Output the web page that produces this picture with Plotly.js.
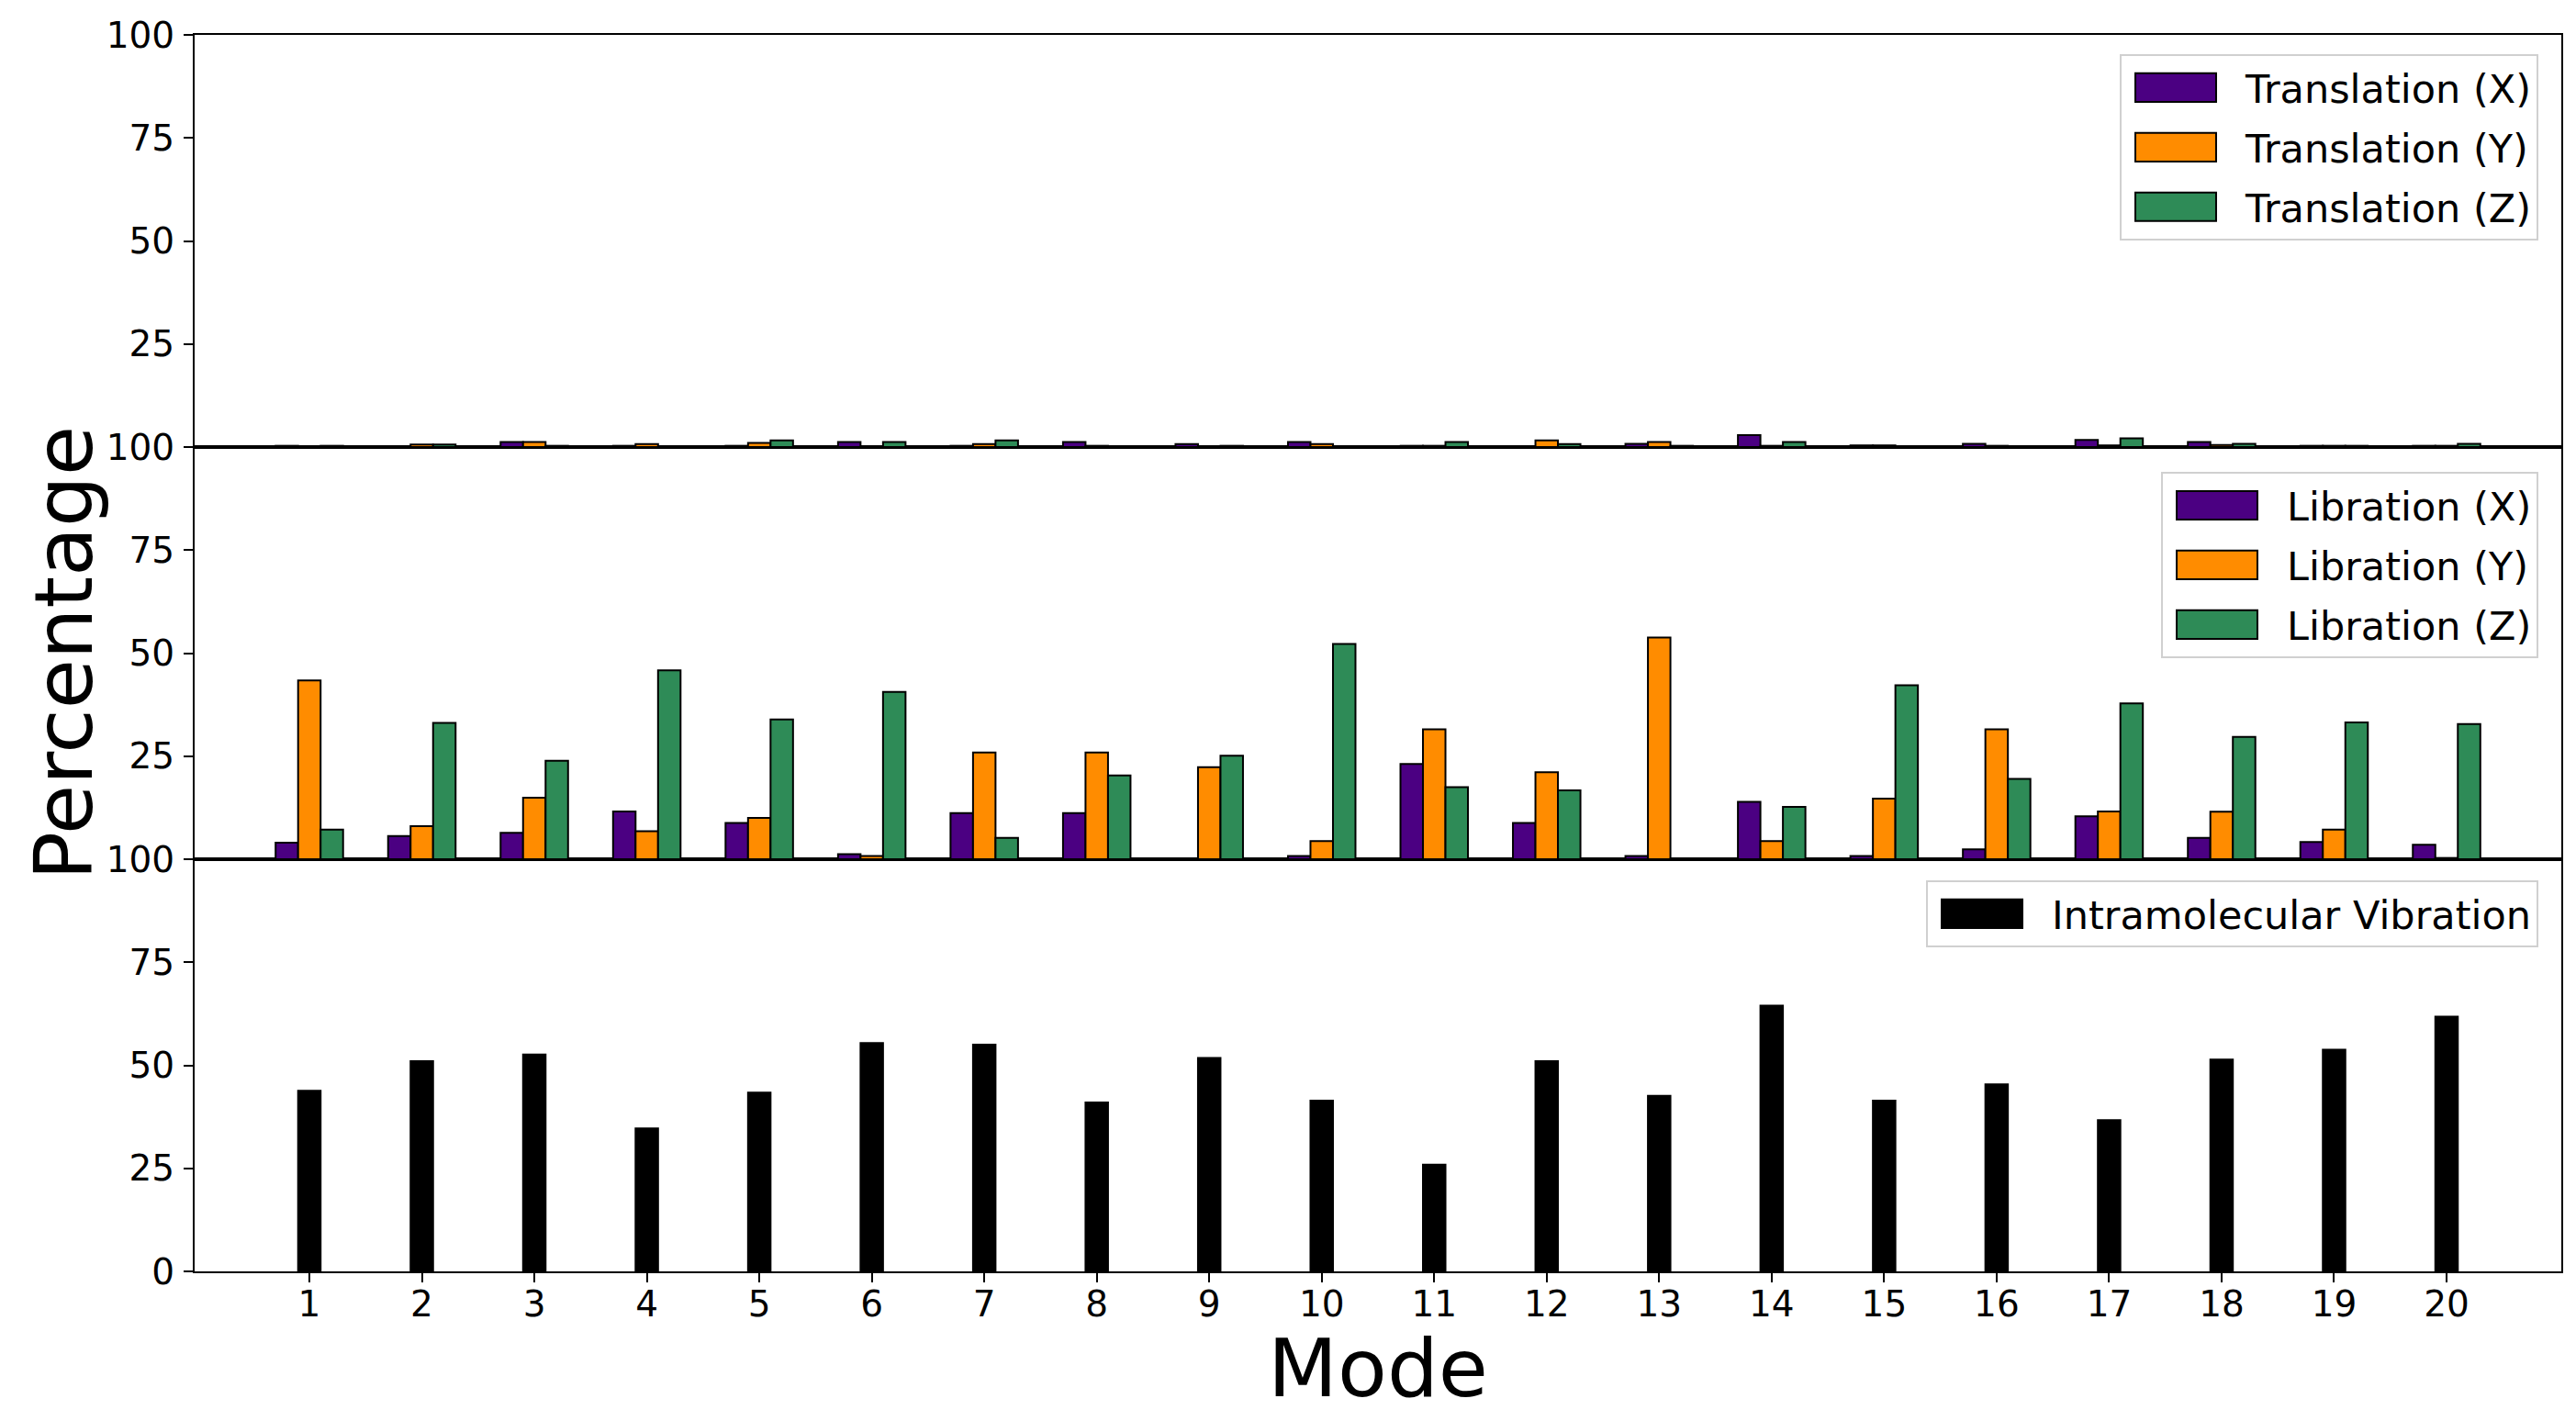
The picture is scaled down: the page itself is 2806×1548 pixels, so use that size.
<!DOCTYPE html>
<html>
<head>
<meta charset="utf-8">
<script src="https://cdn.plot.ly/plotly-3.0.1.min.js"></script>
<style>
  html, body { margin: 0; padding: 0; background: #ffffff; }
  #chart { width: 2806px; height: 1548px; }
</style>
</head>
<body>
<div id="chart"></div>
<script>
// ---------------- data ----------------
const modes = [1, 2, 3, 4, 5, 6, 7, 8, 9, 10, 11, 12, 13, 14, 15, 16, 17, 18, 19, 20];
const modeLabels = ["1","2","3","4","5","6","7","8","9","10","11","12","13","14","15","16","17","18","19","20"];

const translationX = [0.3, 0.05, 1.2, 0.3, 0.3, 1.2, 0.3, 1.2, 0.7, 1.2, 0.3, 0.05, 0.8, 2.9, 0.4, 0.8, 1.7, 1.2, 0.3, 0.3];
const translationY = [0.05, 0.6, 1.2, 0.7, 1.0, 0.05, 0.7, 0.3, 0.05, 0.7, 0.3, 1.6, 1.2, 0.3, 0.4, 0.3, 0.4, 0.5, 0.3, 0.3];
const translationZ = [0.3, 0.6, 0.3, 0.05, 1.6, 1.2, 1.6, 0.1, 0.3, 0.05, 1.2, 0.7, 0.3, 1.2, 0.1, 0.1, 2.1, 0.8, 0.3, 0.8];

const librationX = [4.0, 5.6, 6.4, 11.6, 8.8, 1.2, 11.2, 11.2, 0.2, 0.8, 23.1, 8.8, 0.8, 13.9, 0.8, 2.4, 10.4, 5.2, 4.2, 3.5];
const librationY = [43.4, 8.0, 14.9, 6.8, 10.0, 0.8, 25.9, 25.9, 22.3, 4.4, 31.5, 21.1, 53.8, 4.4, 14.7, 31.5, 11.6, 11.5, 7.2, 0.3];
const librationZ = [7.2, 33.1, 23.9, 45.8, 33.9, 40.6, 5.2, 20.3, 25.1, 52.2, 17.5, 16.7, 0.1, 12.7, 42.2, 19.5, 37.8, 29.7, 33.2, 32.8];

const intramolecular = [43.8, 51.0, 52.6, 34.7, 43.4, 55.4, 55.0, 41.0, 51.8, 41.4, 25.9, 51.0, 42.6, 64.5, 41.4, 45.4, 36.7, 51.4, 53.8, 61.8];

const yTicks = [0, 25, 50, 75, 100];
const yTickLabels = ["0", "25", "50", "75", "100"];
// upper panels: their "0" sits exactly under the "100" of the panel below
const yTickLabelsUpper = ["", "25", "50", "75", "100"];

// ---------------- style ----------------
const FONT = "DejaVu Sans";
const C_X = "#4B0082", C_Y = "#FF8C00", C_Z = "#2E8B57";
const BW = 0.2;
const edge = { color: "#000000", width: 2 };

function barTrace(name, y, color, offset, xa, ya, legend, group) {
  return {
    type: "bar", name: name, x: modes, y: y,
    xaxis: xa, yaxis: ya, legend: legend, legendgroup: group,
    width: BW, offset: offset,
    marker: { color: color, line: edge },
    hoverinfo: "x+y+name"
  };
}

const traces = [
  barTrace("Translation (X)", translationX, C_X, -0.3, "x3", "y3", "legend", "tx"),
  barTrace("Translation (Y)", translationY, C_Y, -0.1, "x3", "y3", "legend", "ty"),
  barTrace("Translation (Z)", translationZ, C_Z,  0.1, "x3", "y3", "legend", "tz"),
  barTrace("Libration (X)", librationX, C_X, -0.3, "x2", "y2", "legend2", "lx"),
  barTrace("Libration (Y)", librationY, C_Y, -0.1, "x2", "y2", "legend2", "ly"),
  barTrace("Libration (Z)", librationZ, C_Z,  0.1, "x2", "y2", "legend2", "lz"),
  barTrace("Intramolecular Vibration", intramolecular, "#000000", -0.1, "x", "y", "legend3", "iv")
];

const XR = [-0.02, 21.02];
const tickFont = { family: FONT, size: 39, color: "#000000" };

function yAxis(domain, anchor, labels, extra) {
  return Object.assign({
    domain: domain, anchor: anchor, range: [0, 100], fixedrange: true,
    tickmode: "array", tickvals: yTicks, ticktext: labels,
    ticks: "outside", ticklen: 10, tickwidth: 2, tickcolor: "#000000",
    ticklabelstandoff: 2,
    showline: true, linecolor: "#000000", linewidth: 2, mirror: true,
    showgrid: false, zeroline: false, tickfont: tickFont
  }, extra || {});
}
function xAxis(anchor, extra) {
  return Object.assign({
    anchor: anchor, range: XR, fixedrange: true,
    showline: true, linecolor: "#000000", linewidth: 2, mirror: true,
    showgrid: false, zeroline: false, showticklabels: false, ticks: ""
  }, extra || {});
}
function legendBox(y) {
  return {
    x: 0.9903, y: y, xref: "paper", yref: "paper", xanchor: "right", yanchor: "top",
    bgcolor: "rgba(255,255,255,0.85)", bordercolor: "#d0d0d0", borderwidth: 2,
    font: { family: FONT, size: 43, color: "#000000" },
    itemwidth: 125, traceorder: "grouped", tracegroupgap: 6,
    itemclick: false, itemdoubleclick: false
  };
}

const layout = {
  width: 2806, height: 1548,
  margin: { l: 212, r: 16, t: 38, b: 163, pad: 0, autoexpand: false },
  paper_bgcolor: "#ffffff", plot_bgcolor: "#ffffff",
  font: { family: FONT, color: "#000000" },
  barmode: "overlay",
  showlegend: true,
  xaxis: xAxis("y", {
    tickmode: "array", tickvals: modes, ticktext: modeLabels,
    showticklabels: true, ticks: "outside", ticklen: 10, tickwidth: 2, tickcolor: "#000000",
    tickfont: tickFont, ticklabelstandoff: -10, automargin: true,
    title: { text: "Mode", font: { family: FONT, size: 88, color: "#000000" }, standoff: 3 }
  }),
  xaxis2: xAxis("y2"),
  xaxis3: xAxis("y3"),
  yaxis: yAxis([0, 1/3], "x", yTickLabels),
  yaxis2: yAxis([1/3, 2/3], "x2", yTickLabelsUpper, {
    automargin: true,
    title: { text: "Percentage", font: { family: FONT, size: 88, color: "#000000" }, standoff: 0 }
  }),
  yaxis3: yAxis([2/3, 1], "x3", yTickLabelsUpper),
  legend: legendBox(0.9844),
  legend2: legendBox(0.6466),
  legend3: legendBox(0.3163)
};

let nudged = false;
function finishStyling() {
  document.querySelectorAll("#chart g.legendpoints path").forEach(function (p) {
    p.setAttribute("transform", "translate(59,0) scale(7.33,2.6)");
    p.style.vectorEffect = "non-scaling-stroke";
    p.style.strokeWidth = "2px";
    p.style.stroke = "#000000";
  });
  if (nudged) return;
  nudged = true;
  // small nudges of the axis titles, composed with plotly's own transforms
  const yt = document.querySelector("#chart g.g-y2title");
  if (yt) yt.setAttribute("transform", "translate(14,0) " + (yt.getAttribute("transform") || ""));
  const xt = document.querySelector("#chart g.g-xtitle");
  if (xt) xt.setAttribute("transform", "translate(0,-4) " + (xt.getAttribute("transform") || ""));
}

Plotly.newPlot("chart", traces, layout, { displayModeBar: false, responsive: false })
  .then(function () { finishStyling(); setTimeout(finishStyling, 50); });
</script>
</body>
</html>
